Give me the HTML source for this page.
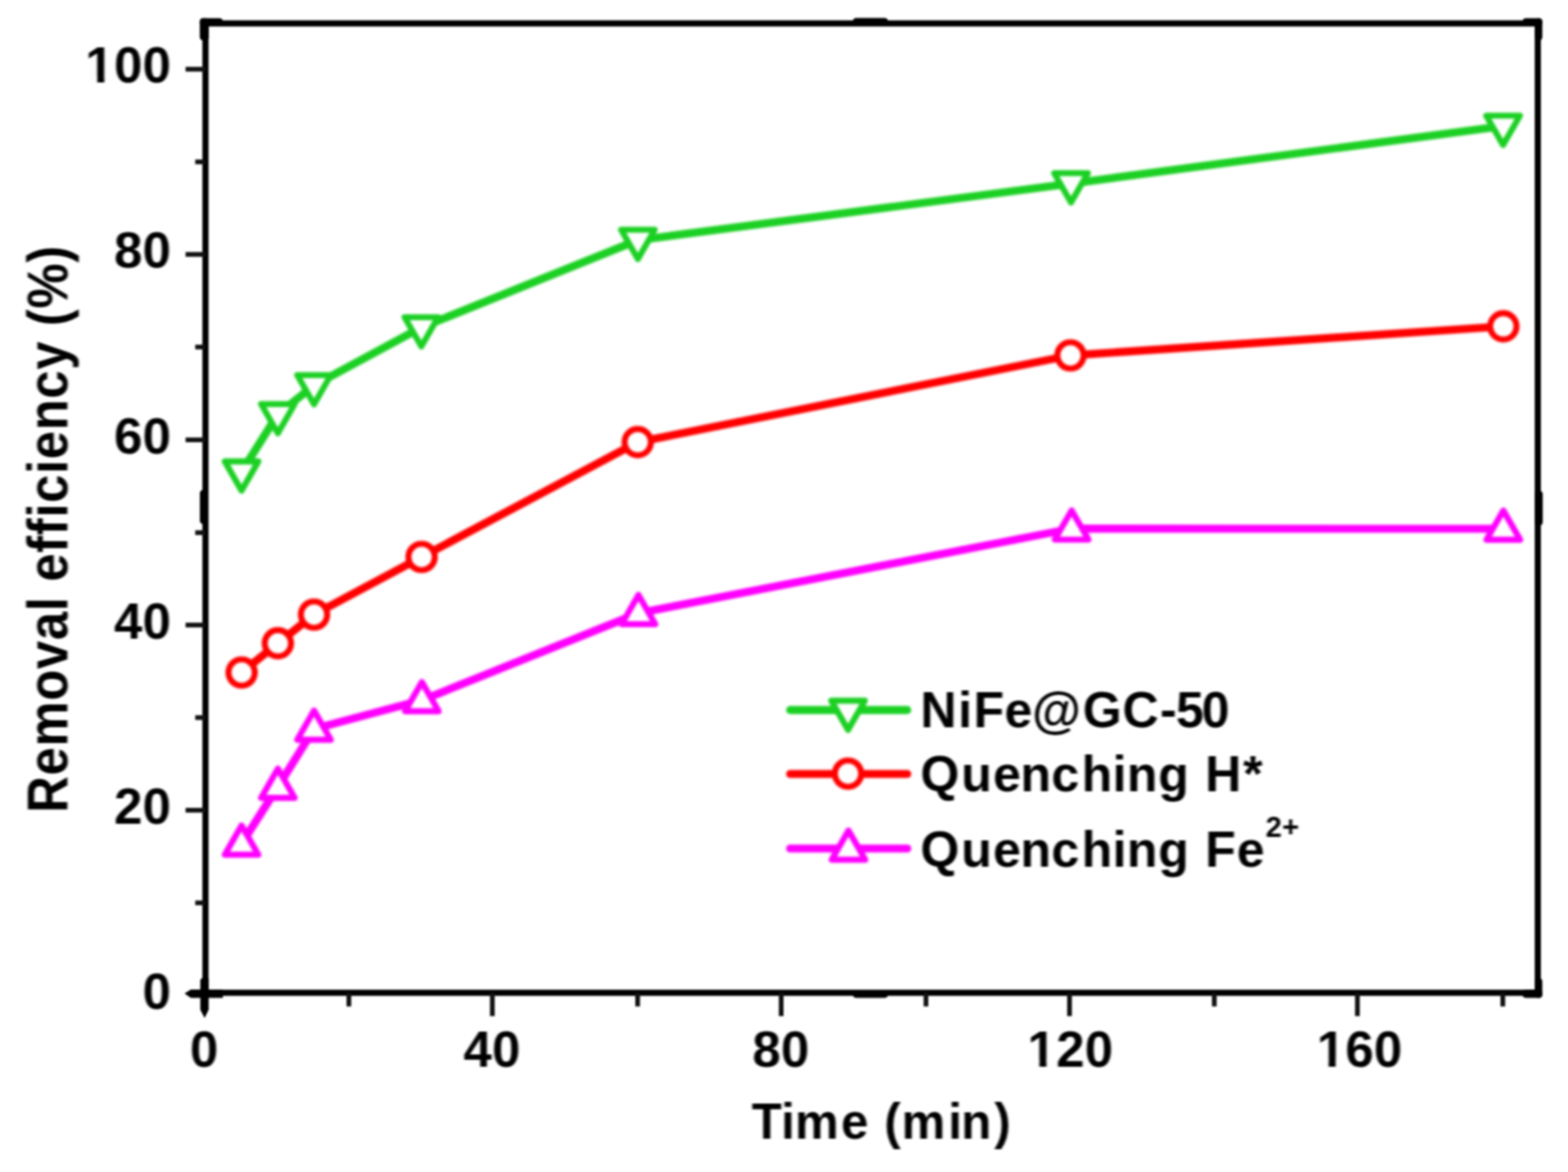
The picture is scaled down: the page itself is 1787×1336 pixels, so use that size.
<!DOCTYPE html>
<html lang="en"><head><meta charset="utf-8"><title>Removal efficiency vs time</title>
<style>
html,body{margin:0;padding:0;background:#fff;}
body{width:1787px;height:1336px;overflow:hidden;}
svg{display:block;}
text{font-family:"Liberation Sans",sans-serif;font-weight:bold;fill:#000;}
.tk{font-size:58px;letter-spacing:0.3px;}
.ti{font-size:58px;}
.lg{font-size:57px;}
</style></head><body>
<svg width="1787" height="1336" viewBox="0 0 1787 1336">
<defs>
<filter id="soft" x="0" y="0" width="1787" height="1336" filterUnits="userSpaceOnUse" color-interpolation-filters="sRGB"><feGaussianBlur stdDeviation="1.25"/></filter>
<filter id="softt" x="0" y="0" width="1787" height="1336" filterUnits="userSpaceOnUse" color-interpolation-filters="sRGB"><feGaussianBlur stdDeviation="1.40 1.20"/></filter>
<filter id="softs" x="0" y="0" width="1787" height="1336" filterUnits="userSpaceOnUse" color-interpolation-filters="sRGB"><feGaussianBlur stdDeviation="1.80"/></filter>
</defs>
<rect x="0" y="0" width="1787" height="1336" fill="#fff"/>
<g id="plot" filter="url(#softs)">
<rect x="0" y="0" width="1787" height="1336" fill="#fff"/>
<g id="series-fe">
<polyline points="275.3,961.7 316.7,897.0 357.9,830.8 480.8,798.2 727.6,699.0 1221.3,602.6 1713.3,602.8" fill="none" stroke="#ff00ff" stroke-width="9.1" stroke-linejoin="round" stroke-linecap="round"/>
<polygon points="256.2,974.2 294.4,974.2 275.3,941.0" fill="#fff" stroke="#ff00ff" stroke-width="6.9" stroke-linejoin="round"/>
<polygon points="297.6,909.5 335.8,909.5 316.7,876.2" fill="#fff" stroke="#ff00ff" stroke-width="6.9" stroke-linejoin="round"/>
<polygon points="338.8,843.3 377.0,843.3 357.9,810.0" fill="#fff" stroke="#ff00ff" stroke-width="6.9" stroke-linejoin="round"/>
<polygon points="461.7,810.8 499.9,810.8 480.8,777.5" fill="#fff" stroke="#ff00ff" stroke-width="6.9" stroke-linejoin="round"/>
<polygon points="708.5,711.5 746.8,711.5 727.6,678.2" fill="#fff" stroke="#ff00ff" stroke-width="6.9" stroke-linejoin="round"/>
<polygon points="1202.1,615.1 1240.5,615.1 1221.3,581.9" fill="#fff" stroke="#ff00ff" stroke-width="6.9" stroke-linejoin="round"/>
<polygon points="1694.1,615.3 1732.5,615.3 1713.3,582.0" fill="#fff" stroke="#ff00ff" stroke-width="6.9" stroke-linejoin="round"/>
</g>
<g id="series-h">
<polyline points="275.4,766.6 316.7,733.3 357.9,700.6 480.5,634.9 726.8,504.0 1220.0,405.1 1713.3,372.0" fill="none" stroke="#ff0000" stroke-width="9.1" stroke-linejoin="round" stroke-linecap="round"/>
<circle cx="275.4" cy="766.6" r="15.0" fill="#fff" stroke="#ff0000" stroke-width="6.9"/>
<circle cx="316.7" cy="733.3" r="15.0" fill="#fff" stroke="#ff0000" stroke-width="6.9"/>
<circle cx="357.9" cy="700.6" r="15.0" fill="#fff" stroke="#ff0000" stroke-width="6.9"/>
<circle cx="480.5" cy="634.9" r="15.0" fill="#fff" stroke="#ff0000" stroke-width="6.9"/>
<circle cx="726.8" cy="504.0" r="15.0" fill="#fff" stroke="#ff0000" stroke-width="6.9"/>
<circle cx="1220.0" cy="405.1" r="15.0" fill="#fff" stroke="#ff0000" stroke-width="6.9"/>
<circle cx="1713.3" cy="372.0" r="15.0" fill="#fff" stroke="#ff0000" stroke-width="6.9"/>
</g>
<g id="series-nife">
<polyline points="275.3,537.7 316.7,472.3 357.9,439.3 480.2,373.3 727.0,273.7 1220.6,209.2 1713.0,143.7" fill="none" stroke="#1bd023" stroke-width="9.1" stroke-linejoin="round" stroke-linecap="round"/>
<polygon points="256.2,526.0 294.4,526.0 275.3,559.2" fill="#fff" stroke="#1bd023" stroke-width="6.9" stroke-linejoin="round"/>
<polygon points="297.6,460.6 335.8,460.6 316.7,493.9" fill="#fff" stroke="#1bd023" stroke-width="6.9" stroke-linejoin="round"/>
<polygon points="338.8,427.6 377.0,427.6 357.9,460.9" fill="#fff" stroke="#1bd023" stroke-width="6.9" stroke-linejoin="round"/>
<polygon points="461.1,361.6 499.3,361.6 480.2,394.9" fill="#fff" stroke="#1bd023" stroke-width="6.9" stroke-linejoin="round"/>
<polygon points="707.9,261.9 746.1,261.9 727.0,295.2" fill="#fff" stroke="#1bd023" stroke-width="6.9" stroke-linejoin="round"/>
<polygon points="1201.4,197.4 1239.8,197.4 1220.6,230.8" fill="#fff" stroke="#1bd023" stroke-width="6.9" stroke-linejoin="round"/>
<polygon points="1693.8,131.9 1732.2,131.9 1713.0,165.2" fill="#fff" stroke="#1bd023" stroke-width="6.9" stroke-linejoin="round"/>
</g>
<g id="legend-keys">
<line x1="900.5" y1="809.4" x2="1034.0" y2="809.4" stroke="#1bd023" stroke-width="9.1" stroke-linecap="round"/>
<polygon points="947.4,798.8 985.6,798.8 966.5,832.0" fill="#fff" stroke="#1bd023" stroke-width="6.9" stroke-linejoin="round"/>
<line x1="900.5" y1="882.2" x2="1034.0" y2="882.2" stroke="#ff0000" stroke-width="9.1" stroke-linecap="round"/>
<circle cx="966.5" cy="881.9" r="15.0" fill="#fff" stroke="#ff0000" stroke-width="6.9"/>
<line x1="900.5" y1="967.3" x2="1034.0" y2="967.3" stroke="#ff00ff" stroke-width="9.1" stroke-linecap="round"/>
<polygon points="947.9,980.0 986.1,980.0 967.0,946.8" fill="#fff" stroke="#ff00ff" stroke-width="6.9" stroke-linejoin="round"/>
</g>
</g>
<g id="frame" filter="url(#soft)">
<g id="axes" stroke="#000" fill="none">
<rect x="234.15" y="26.70" width="1518.45" height="1105.00" stroke-width="7.0"/>
<line x1="211.5" y1="78.9" x2="234.2" y2="78.9" stroke-width="5.4" stroke="#111"/>
<line x1="211.5" y1="290.0" x2="234.2" y2="290.0" stroke-width="5.4" stroke="#111"/>
<line x1="211.5" y1="501.4" x2="234.2" y2="501.4" stroke-width="5.4" stroke="#111"/>
<line x1="211.5" y1="712.5" x2="234.2" y2="712.5" stroke-width="5.4" stroke="#111"/>
<line x1="211.5" y1="923.6" x2="234.2" y2="923.6" stroke-width="5.4" stroke="#111"/>
<line x1="222.5" y1="184.5" x2="234.2" y2="184.5" stroke-width="5.4" stroke="#111"/>
<line x1="222.5" y1="395.6" x2="234.2" y2="395.6" stroke-width="5.4" stroke="#111"/>
<line x1="222.5" y1="607.2" x2="234.2" y2="607.2" stroke-width="5.4" stroke="#111"/>
<line x1="222.5" y1="818.0" x2="234.2" y2="818.0" stroke-width="5.4" stroke="#111"/>
<line x1="222.5" y1="1029.2" x2="234.2" y2="1029.2" stroke-width="5.4" stroke="#111"/>
<line x1="561.1" y1="1131.7" x2="561.1" y2="1158.3" stroke-width="5.4" stroke="#111"/>
<line x1="890.3" y1="1131.7" x2="890.3" y2="1158.3" stroke-width="5.4" stroke="#111"/>
<line x1="1218.9" y1="1131.7" x2="1218.9" y2="1158.3" stroke-width="5.4" stroke="#111"/>
<line x1="1547.0" y1="1131.7" x2="1547.0" y2="1158.3" stroke-width="5.4" stroke="#111"/>
<line x1="397.6" y1="1131.7" x2="397.6" y2="1147.3" stroke-width="5.4" stroke="#111"/>
<line x1="726.7" y1="1131.7" x2="726.7" y2="1147.3" stroke-width="5.4" stroke="#111"/>
<line x1="1055.3" y1="1131.7" x2="1055.3" y2="1147.3" stroke-width="5.4" stroke="#111"/>
<line x1="1383.9" y1="1131.7" x2="1383.9" y2="1147.3" stroke-width="5.4" stroke="#111"/>
<line x1="1712.7" y1="1131.7" x2="1712.7" y2="1147.3" stroke-width="5.4" stroke="#111"/>
</g>
<g id="handles" fill="#000">
<rect x="227.7" y="20.8" width="10.3" height="25.2" rx="4.0"/>
<rect x="227.7" y="20.8" width="26.3" height="9.2" rx="4.0"/>
<rect x="972.0" y="20.5" width="40.0" height="8.5" rx="4.0"/>
<rect x="1735.2" y="20.8" width="22.5" height="9.2" rx="4.0"/>
<rect x="1749.0" y="20.8" width="8.7" height="25.2" rx="4.0"/>
<rect x="227.8" y="558.6" width="9.2" height="38.7" rx="4.0"/>
<rect x="1749.0" y="559.5" width="9.2" height="39.5" rx="4.0"/>
<polygon points="210.3,1132.6 217.5,1128 254,1128 254,1137.5 217.5,1137.5"/>
<polygon points="228.3,1117 230,1115 237.8,1115 237.8,1151 233.2,1160.5 228.3,1151"/>
<rect x="972.0" y="1129.0" width="40.0" height="8.5" rx="4.0"/>
<rect x="1735.2" y="1128.0" width="22.5" height="9.5" rx="4.0"/>
<rect x="1749.3" y="1115.0" width="8.4" height="22.5" rx="4.0"/>
</g>
</g>
<g id="labels" filter="url(#softt)">
<g id="ylabels" class="tk" text-anchor="end">
<text transform="translate(195,94.3) scale(1,0.985)">100</text>
<text transform="translate(195,305.4) scale(1,0.985)">80</text>
<text transform="translate(195,516.8) scale(1,0.985)">60</text>
<text transform="translate(195,727.9) scale(1,0.985)">40</text>
<text transform="translate(195,939.0) scale(1,0.985)">20</text>
<text transform="translate(195,1150.4) scale(1,0.985)">0</text>
</g>
<g id="xlabels" class="tk" text-anchor="middle">
<text transform="translate(232.7,1215.6) scale(1,0.985)">0</text>
<text transform="translate(560.7,1215.6) scale(1,0.985)">40</text>
<text transform="translate(890.1,1215.6) scale(1,0.985)">80</text>
<text transform="translate(1219.9,1215.6) scale(1,0.985)">120</text>
<text transform="translate(1549.5,1215.6) scale(1,0.985)">160</text>
</g>
<g id="one-trim" fill="#fff">
<rect x="100.00" y="87.27" width="10.88" height="8.03"/>
<rect x="118.85" y="87.27" width="10.15" height="8.03"/>
<rect x="1173.72" y="1208.57" width="10.88" height="8.03"/>
<rect x="1192.57" y="1208.57" width="10.15" height="8.03"/>
<rect x="1503.32" y="1208.57" width="10.88" height="8.03"/>
<rect x="1522.17" y="1208.57" width="10.15" height="8.03"/>
</g>
<text class="ti" transform="translate(0,1298.3) scale(1,1.03)" x="856.7 890.3 906.0 958.4 975.2 1007.7 1027.4 1080.7 1095.5 1133.2" y="0" style="font-size:56px">Time (min)</text>
<text class="ti" transform="translate(76.8,603) rotate(-90) scale(1,1.11)" text-anchor="middle" style="letter-spacing:0.7px">Removal efficiency (%)</text>
<g id="legend-text">
<text class="lg" x="1049.1 1092.0 1109.5 1144.7 1176.2 1234.0 1279.3 1321.9 1340.2 1369.4" y="829.3">NiFe@GC-50</text>
<text class="lg" x="1049.0 1095.5 1131.7 1163.0 1198.2 1232.7 1267.9 1284.3 1320.0 1337.1 1373.6 1416.8" y="901.7">Quenching H*</text>
<text class="lg" x="1049.0 1095.5 1131.7 1163.0 1198.2 1232.7 1267.9 1284.3 1320.0 1337.1 1373.6 1409.4" y="987.7">Quenching Fe<tspan x="1442.6 1461.2" y="954.2" style="font-size:33px">2+</tspan></text>
</g>
</g>
</svg>
</body></html>
